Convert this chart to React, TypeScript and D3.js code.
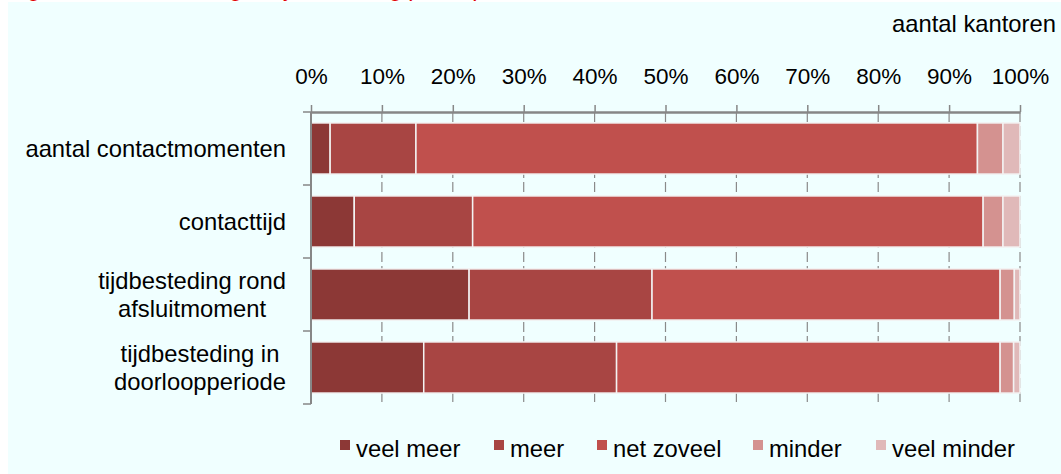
import React, { useEffect, useRef } from "react";
import * as d3 from "d3";

const categories = [
  "aantal contactmomenten",
  "contacttijd",
  "tijdbesteding rond afsluitmoment",
  "tijdbesteding in doorloopperiode",
];
// line breaks as in the picture
const categoryLines = [
  ["aantal contactmomenten"],
  ["contacttijd"],
  ["tijdbesteding rond", "afsluitmoment"],
  ["tijdbesteding in", "doorloopperiode"],
];
const seriesNames = ["veel meer", "meer", "net zoveel", "minder", "veel minder"];
const veelMeer = [2.7, 6.1, 22.3, 15.9];
const meer = [12.1, 16.7, 25.8, 27.2];
const netZoveel = [79.2, 72.0, 49.1, 54.1];
const minder = [3.6, 2.8, 2.0, 1.9];
const veelMinder = [2.4, 2.4, 0.8, 0.9];
const tickValues = [0, 10, 20, 30, 40, 50, 60, 70, 80, 90, 100];
const colors = ["#8c3836", "#a84543", "#c0504d", "#d49290", "#e0b9b9"];

const WIDTH = 1061;
const HEIGHT = 474;
const MARGIN = { top: 112, right: 41, bottom: 70, left: 311 };
const FONT = "Arial, 'Liberation Sans', sans-serif";
const LABEL_SIZE = 23.8;

const rows = categories.map((c, i) => ({
  cat: c,
  "veel meer": veelMeer[i],
  meer: meer[i],
  "net zoveel": netZoveel[i],
  minder: minder[i],
  "veel minder": veelMinder[i],
}));

const measure = (txt: string, size: number) => {
  const ctx = document.createElement("canvas").getContext("2d");
  if (!ctx) return txt.length * size * 0.5;
  ctx.font = `${size}px Arial, 'Liberation Sans'`;
  return ctx.measureText(txt).width;
};

const App = () => {
  const axisRef = useRef<SVGGElement>(null);
  const x = d3.scaleLinear().domain([0, 100]).range([MARGIN.left, WIDTH - MARGIN.right]);
  const y = d3
    .scaleBand()
    .domain(categories)
    .range([MARGIN.top, HEIGHT - MARGIN.bottom])
    .paddingInner(0.3)
    .paddingOuter(0.15);

  const series = d3.stack<any>().keys(seriesNames).order(d3.stackOrderNone)(rows);
  const color = d3.scaleOrdinal<string>().domain(seriesNames).range(colors);

  useEffect(() => {
    const g = d3.select(axisRef.current);
    g.selectAll("*").remove();
    const ax = g
      .append("g")
      .attr("transform", `translate(0,${MARGIN.top})`)
      .call(
        d3
          .axisTop(x)
          .tickValues(tickValues)
          .tickSize(7)
          .tickSizeOuter(0)
          .tickPadding(21.5)
          .tickFormat((d) => `${d}%`)
      );
    ax.select(".domain").attr("stroke", "#878787").attr("stroke-width", 2.5);
    ax.selectAll(".tick line").attr("stroke", "#878787").attr("stroke-width", 1.5);
    ax.selectAll(".tick text")
      .attr("fill", "#000")
      .style("font-size", "22.5px")
      .style("font-family", FONT);
  }, []);

  const bandEdges = d3.range(categories.length + 1).map((i) => MARGIN.top + i * y.step());
  const legendX = [340, 494, 597, 753, 876];
  const labelRight = 286;

  return (
    <svg
      width={WIDTH}
      height={HEIGHT}
      style={{ position: "absolute", left: 0, top: 0 }}
      fontFamily={FONT}
    >
      <rect x={8} y={2} width={WIDTH - 8} height={HEIGHT - 2} fill="#f0ffff" />
      <text x={8} y={-4} fill="#e00000" fontSize={23}>
        Figuur 5.3 Verandering in tijdbesteding per aspect, aantal kantoren
      </text>
      <text x={1056} y={32} textAnchor="end" fontSize={LABEL_SIZE}>
        aantal kantoren
      </text>

      {/* dashed gridlines */}
      {tickValues.slice(1).map((t) => (
        <line
          key={t}
          x1={x(t)}
          x2={x(t)}
          y1={MARGIN.top}
          y2={HEIGHT - MARGIN.bottom}
          stroke="#8a8a8a"
          strokeWidth={1.2}
          strokeDasharray="10,4"
        />
      ))}

      {series.map((s) => (
        <g key={s.key}>
          {s.map((d, j) => (
            <rect
              key={j}
              x={x(d[0])}
              y={y(d.data.cat)}
              width={Math.max(0, x(d[1]) - x(d[0]))}
              height={y.bandwidth()}
              fill={color(s.key)}
              stroke="#f3f3f3"
              strokeWidth={1.5}
            />
          ))}
        </g>
      ))}

      {/* left axis */}
      <line
        x1={MARGIN.left}
        x2={MARGIN.left}
        y1={MARGIN.top}
        y2={HEIGHT - MARGIN.bottom}
        stroke="#878787"
        strokeWidth={2}
      />
      {bandEdges.map((e, i) => (
        <line key={i} x1={MARGIN.left - 8} x2={MARGIN.left} y1={e} y2={e} stroke="#878787" strokeWidth={1.5} />
      ))}

      <g ref={axisRef} />

      {/* category labels */}
      {categoryLines.map((lines, i) => {
        const cy = (y(categories[i]) ?? 0) + y.bandwidth() / 2;
        const w = Math.max(...lines.map((l) => measure(l, LABEL_SIZE)));
        const cx = labelRight - w / 2;
        const top = cy + 8 - ((lines.length - 1) * 28) / 2;
        return (
          <text key={i} textAnchor="middle" fontSize={LABEL_SIZE} fill="#000">
            {lines.map((l, k) => (
              <tspan key={k} x={cx} y={top + k * 28}>
                {l}
              </tspan>
            ))}
          </text>
        );
      })}

      {/* legend */}
      {seriesNames.map((n, i) => (
        <g key={n} transform={`translate(${legendX[i]},440)`}>
          <rect width={10} height={10} fill={colors[i]} />
          <text x={16} y={17} fontSize={LABEL_SIZE} fill="#000">
            {n}
          </text>
        </g>
      ))}
    </svg>
  );
};

export default App;
